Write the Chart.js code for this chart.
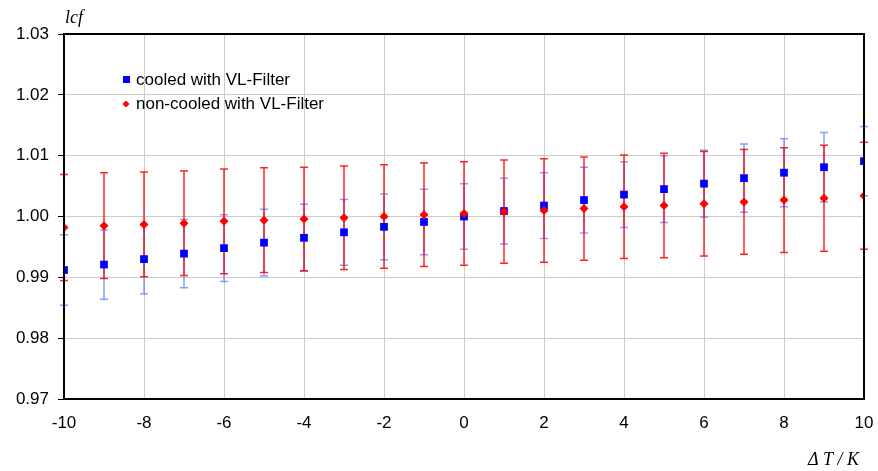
<!DOCTYPE html>
<html>
<head>
<meta charset="utf-8">
<script src="https://cdn.jsdelivr.net/npm/chart.js@4"></script>
<style>
  html, body { margin: 0; padding: 0; background: #fff; }
  #wrap { width: 878px; height: 471px; }
</style>
</head>
<body>
<div id="wrap"><canvas id="lcf-chart" width="878" height="471"></canvas></div>
<script>
const deltaT = [-10, -9, -8, -7, -6, -5, -4, -3, -2, -1, 0, 1, 2, 3, 4, 5, 6, 7, 8, 9, 10];

const cooled = [0.9912, 0.9921, 0.9930, 0.9939, 0.9948, 0.9957, 0.9965, 0.9974, 0.9983, 0.9991, 1.0000,
                1.0009, 1.0018, 1.0027, 1.0036, 1.0045, 1.0054, 1.0063, 1.0072, 1.0081, 1.0091];
const cooledErr = [0.0058, 0.0057, 0.0057, 0.0056, 0.0055, 0.0055, 0.0055, 0.0054, 0.0054, 0.0054, 0.0054,
                   0.0054, 0.0054, 0.0054, 0.0054, 0.0055, 0.0055, 0.0056, 0.0056, 0.0057, 0.0057];

const nonCooled = [0.9982, 0.9985, 0.9987, 0.9989, 0.9992, 0.9994, 0.9996, 0.9998, 1.0000, 1.0003, 1.0005,
                   1.0008, 1.0010, 1.0013, 1.0016, 1.0018, 1.0021, 1.0024, 1.0027, 1.0030, 1.0034];
const nonCooledErr = [0.0087, 0.0087, 0.0086, 0.0086, 0.0086, 0.0086, 0.0085, 0.0085, 0.0085, 0.0085, 0.0085,
                      0.0085, 0.0085, 0.0085, 0.0085, 0.0086, 0.0086, 0.0086, 0.0086, 0.0087, 0.0088];

const yTicks = [0.97, 0.98, 0.99, 1.00, 1.01, 1.02, 1.03];
const xTicks = [-10, -8, -6, -4, -2, 0, 2, 4, 6, 8, 10];

const labels = ['cooled with VL-Filter', 'non-cooled with VL-Filter'];

const errorSets = [cooledErr, nonCooledErr];
const barColors = ['rgba(60, 110, 255, 0.65)', 'rgba(255, 0, 0, 0.85)'];

// error bars, drawn under the markers
const errorBars = {
    id: 'errorBars',
    beforeDatasetsDraw(chart) {
        const ctx = chart.ctx;
        const xs = chart.scales.x, ys = chart.scales.y;
        [0, 1].forEach(function(di) {
            const ds = chart.data.datasets[di];
            ctx.save();
            ctx.strokeStyle = barColors[di];
            ctx.lineWidth = 1.5;
            ds.data.forEach(function(p, i) {
                const e = errorSets[di][i];
                const px = xs.getPixelForValue(p.x);
                const top = ys.getPixelForValue(p.y + e);
                const bot = ys.getPixelForValue(p.y - e);
                ctx.beginPath();
                ctx.moveTo(px, top); ctx.lineTo(px, bot);
                ctx.moveTo(px - 4, top); ctx.lineTo(px + 4, top);
                ctx.moveTo(px - 4, bot); ctx.lineTo(px + 4, bot);
                ctx.stroke();
            });
            ctx.restore();
        });
    }
};

// frame, legend and axis titles
const decorations = {
    id: 'decorations',
    afterDraw(chart) {
        const ctx = chart.ctx;
        const a = chart.chartArea;
        ctx.save();
        ctx.strokeStyle = '#000';
        ctx.lineWidth = 2;
        ctx.strokeRect(a.left, a.top, a.right - a.left, a.bottom - a.top);

        // legend
        ctx.font = '17px "Liberation Sans", Arial, sans-serif';
        ctx.textBaseline = 'middle';
        ctx.fillStyle = '#0000ff';
        ctx.fillRect(123, 76, 7, 7);
        ctx.fillStyle = '#000';
        ctx.fillText(labels[0], 136, 80);
        ctx.fillStyle = '#ff0000';
        ctx.beginPath();
        ctx.moveTo(126, 100.5); ctx.lineTo(129.5, 104); ctx.lineTo(126, 107.5); ctx.lineTo(122.5, 104);
        ctx.closePath(); ctx.fill();
        ctx.fillStyle = '#000';
        ctx.fillText(labels[1], 136, 104);

        // axis titles
        ctx.font = 'italic 18px "Liberation Serif", "Times New Roman", serif';
        ctx.textBaseline = 'alphabetic';
        ctx.fillText('lcf', 65, 23);
        ctx.textAlign = 'right';
        ctx.fillText('\u0394 T / K', 859, 465);
        ctx.restore();
    }
};

new Chart(document.getElementById('lcf-chart').getContext('2d'), {
    type: 'scatter',
    data: {
        datasets: [
            {
                label: labels[0],
                data: deltaT.map((t, i) => ({ x: t, y: cooled[i] })),
                pointStyle: 'rect',
                pointRadius: 5.5,
                backgroundColor: '#0000ff',
                borderColor: '#0000ff',
                borderWidth: 0,
                order: 2
            },
            {
                label: labels[1],
                data: deltaT.map((t, i) => ({ x: t, y: nonCooled[i] })),
                pointStyle: 'rectRot',
                pointRadius: 4.5,
                backgroundColor: '#ff0000',
                borderColor: '#ff0000',
                borderWidth: 0,
                order: 1
            }
        ]
    },
    options: {
        responsive: false,
        animation: false,
        layout: { padding: { left: 0, right: 14, top: 34, bottom: 0 } },
        plugins: {
            legend: { display: false },
            tooltip: { enabled: false }
        },
        scales: {
            x: {
                type: 'linear',
                min: -10,
                max: 10,
                afterBuildTicks: axis => { axis.ticks = xTicks.map(v => ({ value: v })); },
                afterFit: axis => { axis.height = 72; axis.paddingLeft = 0; axis.paddingRight = 0; },
                ticks: {
                    color: '#000',
                    padding: 14,
                    font: { family: '"Liberation Sans", Arial, sans-serif', size: 17 },
                    callback: v => String(v)
                },
                grid: { color: '#cccccc', lineWidth: 1, drawTicks: false },
                border: { display: false }
            },
            y: {
                min: 0.97,
                max: 1.03,
                afterBuildTicks: axis => { axis.ticks = yTicks.map(v => ({ value: v })); },
                afterFit: axis => { axis.width = 64; axis.paddingTop = 0; axis.paddingBottom = 0; },
                ticks: {
                    color: '#000',
                    padding: 9,
                    font: { family: '"Liberation Sans", Arial, sans-serif', size: 17 },
                    callback: v => v.toFixed(2)
                },
                grid: { color: '#cccccc', lineWidth: 1, tickColor: '#000', tickLength: 6 },
                border: { display: false }
            }
        }
    },
    plugins: [errorBars, decorations]
});
</script>
</body>
</html>
